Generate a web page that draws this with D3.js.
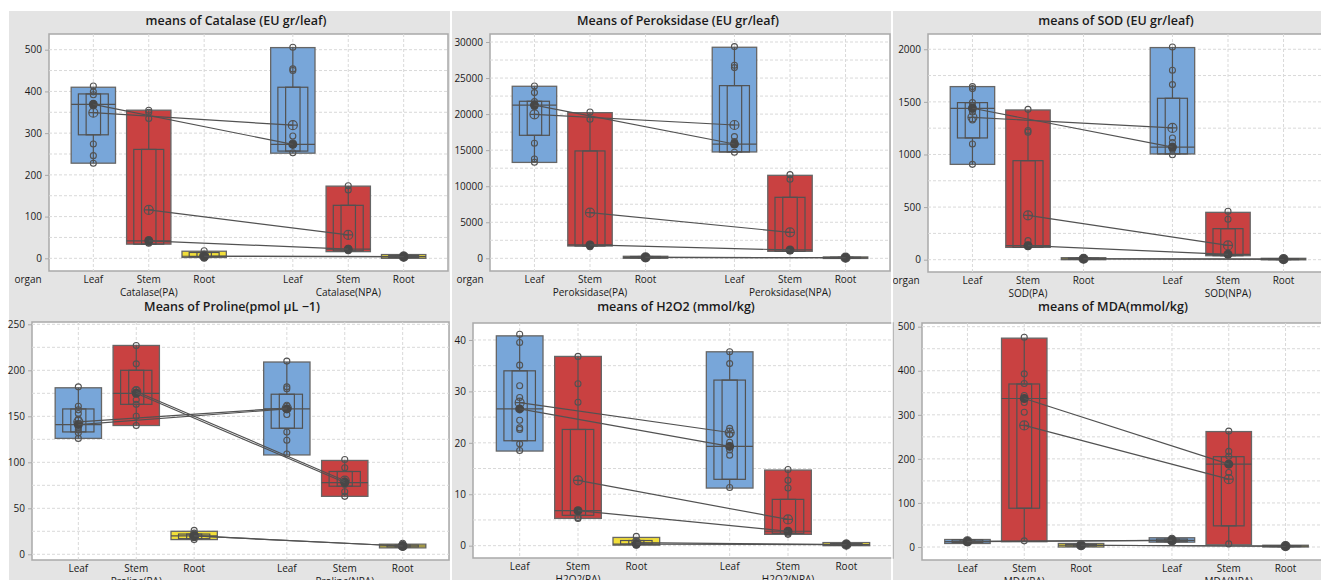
<!DOCTYPE html>
<html>
<head>
<meta charset="utf-8">
<script src="https://cdn.jsdelivr.net/npm/d3@7"></script>
<style>
  body { margin: 0; background: #fff; }
  svg { display: block; font-family: 'Open Sans', sans-serif; }
</style>
</head>
<body>
<div id="chart"></div>
<script>
// categories
const organs = ['Leaf', 'Stem', 'Root', 'Leaf', 'Stem', 'Root'];
const slots = [0, 1, 2, 3.6, 4.6, 5.6];
const groupTags = ['PA', 'NPA'];

// box stats per group: [min, q1, median, q3, max, mean]
const catalaseBox = [
  [228, 296, 369, 394, 410, 349], [34, 34, 42, 261, 355, 116], [2, 4, 5, 14, 17, 5],
  [252, 257, 273, 410, 505, 319], [16, 18, 22, 127, 173, 56], [0, 2, 4, 7, 9, 4]
];
const catalasePts = [
  [413, 399, 392, 371, 369, 365, 274, 246, 228], [355, 350, 335, 45, 42, 38, 36], [18, 10, 4, 2, 0],
  [506, 454, 450, 293, 277, 274, 272, 253], [174, 164, 24, 22, 20, 18], [8, 5, 3, 1]
];

const peroxBox = [
  [13300, 17060, 21250, 21780, 23860, 19970], [1710, 1710, 1850, 14890, 20200, 6330], [0, 60, 120, 250, 280, 130],
  [14750, 14750, 15850, 23950, 29270, 18490], [970, 970, 1160, 8460, 11510, 3610], [0, 40, 80, 150, 190, 90]
];
const peroxPts = [
  [23900, 22980, 21730, 21360, 21040, 15950, 13780, 13320], [20300, 19280, 1940, 1800, 1620], [280, 150, 80, 20],
  [29360, 26770, 26450, 16880, 16180, 15860, 14700], [11600, 10960, 1160, 1050], [180, 90, 30]
];

const sodBox = [
  [906, 1157, 1439, 1493, 1645, 1353], [117, 117, 133, 941, 1423, 422], [0, 4, 8, 15, 19, 9],
  [1005, 1005, 1070, 1534, 2016, 1252], [38, 38, 51, 295, 450, 136], [0, 2, 5, 10, 13, 6]
];
const sodPts = [
  [1645, 1626, 1493, 1461, 1439, 1404, 1328, 1100, 906], [1429, 1227, 1211, 181, 140, 125], [18, 10, 5, 2],
  [2022, 1800, 1664, 1157, 1113, 1074, 1050, 998], [460, 384, 60, 45], [12, 6, 2]
];

const prolineBox = [
  [126, 133, 141, 158, 181, 144], [140, 163, 175, 200, 227, 177], [16, 17, 20, 22, 25, 20],
  [108, 137, 158, 174, 209, 159], [63, 74, 78, 90, 102, 80], [7, 8, 9, 10, 11, 9]
];
const prolinePts = [
  [182, 161, 157, 153, 147, 141, 138, 135, 132, 126], [227, 207, 179, 175, 168, 163, 150, 140], [26, 23, 20, 18, 16],
  [210, 182, 180, 162, 158, 152, 133, 124, 109], [103, 94, 80, 79, 76, 68, 63], [12, 10, 8]
];

const h2o2Box = [
  [18.4, 20.4, 26.6, 34.0, 40.8, 27.8], [5.3, 5.9, 6.8, 22.6, 36.8, 12.7], [0.1, 0.3, 0.3, 1.0, 1.6, 0.6],
  [11.2, 12.9, 19.3, 32.2, 37.7, 22.0], [2.2, 2.4, 2.8, 9.0, 14.7, 5.1], [0, 0.1, 0.2, 0.4, 0.6, 0.2]
];
const h2o2Pts = [
  [41.1, 39.5, 35.1, 31.1, 28.8, 26.6, 24.4, 22.9, 22.6, 19.8, 18.5], [36.8, 31.5, 27.9, 6.9, 6.6, 5.5, 5.3], [1.8, 0.8, 0.3, 0.1],
  [37.7, 35.4, 22.8, 21.6, 20.1, 19.4, 18.6, 17.6, 11.3], [14.8, 12.7, 11.2, 2.8, 2.4, 2.2], [0.5, 0.2, 0.1]
];

const mdaBox = [
  [8, 10, 12, 16, 17, 13], [12, 88, 337, 370, 474, 276], [0, 2, 4, 6, 8, 4],
  [11, 12, 15, 18, 21, 15], [5, 48, 188, 205, 262, 154], [0, 1, 2, 3, 4, 2]
];
const mdaPts = [
  [15, 13, 11], [476, 393, 371, 344, 337, 328, 306, 14], [5, 3, 1],
  [20, 16, 12], [263, 217, 206, 190, 169, 7], [3, 1]
];

const organColor = { Leaf: '#78a6d9', Stem: '#c94141', Root: '#f2df3a' };
const ink = '#525252';

// panel layout
const panels = [
  { title: 'means of Catalase (EU gr/leaf)', tag: 'Catalase', box: catalaseBox, pts: catalasePts,
    bg: [9, 450], left: 49, right: 448, top: 34, bottom: 271, y: [-30.4, 537.6], step: 100, titleX: 236, titleY: 25, organ: 28 },
  { title: 'Means of Peroksidase (EU gr/leaf)', tag: 'Peroksidase', box: peroxBox, pts: peroxPts,
    bg: [452, 891], left: 490, right: 890, top: 34, bottom: 271, y: [-1760, 31110], step: 5000, titleX: 678, titleY: 25, organ: 470 },
  { title: 'means of SOD (EU gr/leaf)', tag: 'SOD', box: sodBox, pts: sodPts,
    bg: [893, 1321], left: 928, right: 1328, top: 34, bottom: 272, y: [-117, 2145], step: 500, titleX: 1116, titleY: 25, organ: 906 },
  { title: 'Means of Proline(pmol µL −1)', tag: 'Proline', box: prolineBox, pts: prolinePts,
    bg: [9, 450], left: 32, right: 449, top: 322, bottom: 560, y: [-6.2, 252.5], step: 50, titleX: 232, titleY: 311, organ: null },
  { title: 'means of H2O2 (mmol/kg)', tag: 'H2O2', box: h2o2Box, pts: h2o2Pts,
    bg: [452, 891], left: 473, right: 893, top: 323, bottom: 558, y: [-2.4, 43.3], step: 10, titleX: 676, titleY: 311, organ: null },
  { title: 'means of MDA(mmol/kg)', tag: 'MDA', box: mdaBox, pts: mdaPts,
    bg: [893, 1321], left: 922, right: 1331, top: 323, bottom: 560, y: [-29.5, 508.4], step: 100, titleX: 1113, titleY: 311, organ: null }
];

const W = 1321, H = 580;
const svg = d3.select('#chart').append('svg').attr('width', W).attr('height', H);

// gray panel backgrounds
svg.selectAll('.bg').data(panels.slice(0, 3)).enter().append('rect')
  .attr('x', d => d.bg[0]).attr('y', 11)
  .attr('width', d => d.bg[1] - d.bg[0]).attr('height', H - 11)
  .attr('fill', '#e4e4e4');

panels.forEach((p, pi) => {
  const g = svg.append('g');
  const x = d3.scaleLinear().domain([-0.8, 6.4]).range([p.left, p.right]);
  const y = d3.scaleLinear().domain(p.y).range([p.bottom, p.top]);
  const slot = x(1) - x(0);
  const yMax = p.y[1];
  const clipId = 'clip' + pi;

  g.append('clipPath').attr('id', clipId).append('rect')
    .attr('x', p.left).attr('y', p.top).attr('width', p.right - p.left).attr('height', p.bottom - p.top);

  g.append('rect')
    .attr('x', p.left).attr('y', p.top)
    .attr('width', p.right - p.left).attr('height', p.bottom - p.top)
    .attr('fill', '#fff').attr('stroke', '#a9a9a9').attr('stroke-width', 1.5);

  // title
  g.append('text').attr('x', p.titleX).attr('y', p.titleY)
    .attr('text-anchor', 'middle').attr('font-size', 12.5).attr('font-weight', 600).attr('fill', '#1a1a1a')
    .text(p.title);

  const plot = g.append('g').attr('clip-path', `url(#${clipId})`);

  // grid lines (major + minor)
  const gridVals = d3.range(0, yMax, p.step / 2);
  plot.selectAll('.hgrid').data(gridVals).enter().append('line')
    .attr('x1', p.left).attr('x2', p.right)
    .attr('y1', d => y(d)).attr('y2', d => y(d))
    .attr('stroke', '#d9d9d9').attr('stroke-dasharray', '3,2');
  plot.selectAll('.vgrid').data(slots).enter().append('line')
    .attr('x1', d => x(d)).attr('x2', d => x(d))
    .attr('y1', p.top).attr('y2', p.bottom)
    .attr('stroke', '#d9d9d9').attr('stroke-dasharray', '3,2');

  // y axis
  const yAxis = d3.axisLeft(y).tickValues(d3.range(0, yMax, p.step))
    .tickFormat(d3.format('d')).tickSize(4).tickSizeOuter(0);
  const ya = g.append('g').attr('transform', `translate(${p.left},0)`).call(yAxis);
  ya.select('.domain').remove();
  ya.selectAll('line').attr('stroke', '#a9a9a9');
  ya.selectAll('text').attr('font-size', 10).attr('fill', '#1a1a1a').attr('font-family', 'Open Sans');

  // x labels
  g.selectAll('.xl').data(slots).enter().append('text')
    .attr('x', d => x(d)).attr('y', p.bottom + 12)
    .attr('text-anchor', 'middle').attr('font-size', 10).attr('fill', '#1a1a1a')
    .text((d, i) => organs[i]);
  g.selectAll('.gl').data(groupTags).enter().append('text')
    .attr('x', (d, i) => x(slots[i * 3 + 1])).attr('y', p.bottom + 25)
    .attr('text-anchor', 'middle').attr('font-size', 10).attr('fill', '#1a1a1a')
    .text(d => `${p.tag}(${d})`);
  if (p.organ !== null) {
    g.append('text').attr('x', p.organ).attr('y', p.bottom + 12)
      .attr('text-anchor', 'middle').attr('font-size', 10).attr('fill', '#1a1a1a').text('organ');
  }

  const items = p.box.map((b, i) => ({
    pos: slots[i], organ: organs[i],
    min: b[0], q1: b[1], med: b[2], q3: b[3], max: b[4], mean: b[5], pts: p.pts[i]
  }));

  const boxes = plot.selectAll('.grp').data(items).enter().append('g');

  // range box
  boxes.append('rect')
    .attr('x', d => x(d.pos) - slot * 0.4).attr('width', slot * 0.8)
    .attr('y', d => y(d.max)).attr('height', d => Math.max(1.5, y(d.min) - y(d.max)))
    .attr('fill', d => organColor[d.organ]).attr('stroke', '#666').attr('stroke-width', 1.3);

  // whiskers
  boxes.append('line')
    .attr('x1', d => x(d.pos)).attr('x2', d => x(d.pos))
    .attr('y1', d => y(d.max)).attr('y2', d => y(d.q3))
    .attr('stroke', ink).attr('stroke-width', 1.2);
  boxes.append('line')
    .attr('x1', d => x(d.pos)).attr('x2', d => x(d.pos))
    .attr('y1', d => y(d.q1)).attr('y2', d => y(d.min))
    .attr('stroke', ink).attr('stroke-width', 1.2);

  // IQR boxes (outer and inner)
  [0.27, 0.13].forEach(hw => {
    boxes.append('rect')
      .attr('x', d => x(d.pos) - slot * hw).attr('width', slot * hw * 2)
      .attr('y', d => y(d.q3)).attr('height', d => Math.max(1, y(d.q1) - y(d.q3)))
      .attr('fill', 'none').attr('stroke', ink).attr('stroke-width', 1.2);
  });

  // median line
  boxes.append('line')
    .attr('x1', d => x(d.pos) - slot * 0.4).attr('x2', d => x(d.pos) + slot * 0.4)
    .attr('y1', d => y(d.med)).attr('y2', d => y(d.med))
    .attr('stroke', ink).attr('stroke-width', 1.2);

  // connect lines PA -> NPA for each organ
  [0, 1, 2].forEach(k => {
    const a = items[k], b = items[k + 3];
    ['mean', 'med'].forEach(key => {
      plot.append('line')
        .attr('x1', x(a.pos)).attr('y1', y(a[key]))
        .attr('x2', x(b.pos)).attr('y2', y(b[key]))
        .attr('stroke', ink).attr('stroke-width', 1.2);
    });
  });

  // individual values
  boxes.selectAll('.pt').data(d => d.pts.map(v => ({ pos: d.pos, v }))).enter().append('circle')
    .attr('cx', d => x(d.pos)).attr('cy', d => y(d.v)).attr('r', 3)
    .attr('fill', 'none').attr('stroke', ink).attr('stroke-width', 1.1);

  // mean symbol
  const mean = boxes.append('g').attr('transform', d => `translate(${x(d.pos)},${y(d.mean)})`);
  mean.append('circle').attr('r', 4.5).attr('fill', 'none').attr('stroke', ink).attr('stroke-width', 1.2);
  mean.append('path').attr('d', 'M-4.5,0H4.5M0,-4.5V4.5').attr('stroke', ink).attr('stroke-width', 1.2);

  // median dot
  boxes.append('circle')
    .attr('cx', d => x(d.pos)).attr('cy', d => y(d.med)).attr('r', 4.5)
    .attr('fill', '#474747');
});

// white separators between columns
svg.selectAll('.sep').data([451, 892]).enter().append('line')
  .attr('x1', d => d).attr('x2', d => d).attr('y1', 11).attr('y2', H)
  .attr('stroke', '#fff').attr('stroke-width', 1.5);
</script>
</body>
</html>
